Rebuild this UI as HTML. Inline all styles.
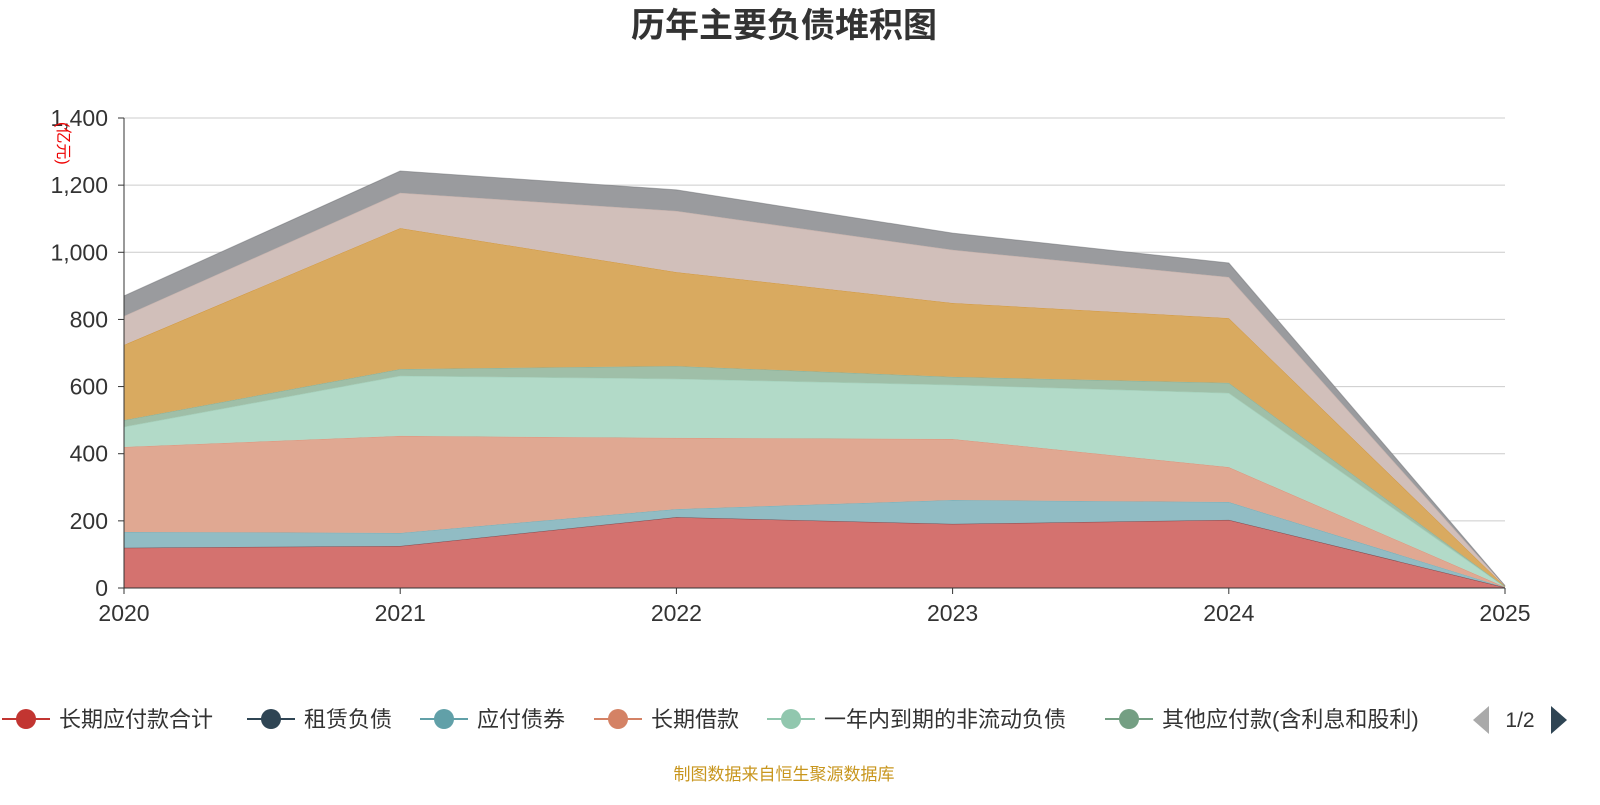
<!DOCTYPE html>
<html><head><meta charset="utf-8"><style>
body{margin:0;background:#fff;font-family:"Liberation Sans","Noto Sans CJK SC",sans-serif;}
</style></head><body>
<svg id="c" width="1600" height="800" xmlns="http://www.w3.org/2000/svg">
<text x="784" y="37" text-anchor="middle" font-size="34" font-weight="bold" fill="#333" font-family="Liberation Sans,Noto Sans CJK SC,sans-serif">历年主要负债堆积图</text>
<g id="grid"></g><g id="areas"></g><g id="axes"></g><g id="legend"></g>
<text x="784" y="780" text-anchor="middle" font-size="17" fill="#c8961e" font-family="Liberation Sans,Noto Sans CJK SC,sans-serif">制图数据来自恒生聚源数据库</text>
</svg>
<script>
const years=['2020','2021','2022','2023','2024','2025'];
const yTicks=[0,200,400,600,800,1000,1200,1400];
const yTickLabels=['0','200','400','600','800','1,000','1,200','1,400'];
const seriesNames=['长期应付款合计','租赁负债','应付债券','长期借款','一年内到期的非流动负债','其他应付款(含利息和股利)','短期借款','应付账款','其他'];
const sLongPay=[120,125,211,191,203,2];
const sLease=[0,0,0,0,0,0];
const sBond=[47,39,24,71,53,0];
const sLoan=[253,289,212,182,104,1];
const sCurrent=[60,179,176,161,221,1];
const sOther=[20,20,38,24,30,0];
const sShort=[224,420,280,220,193,1];
const sPayable=[86,105,182,158,122,1];
const sRest=[60,65,63,50,42,1];
const series=[sLongPay,sLease,sBond,sLoan,sCurrent,sOther,sShort,sPayable,sRest];
const fills=['#d4726f','#56626f','#91bcc4','#e0a892','#b2dac8','#9fbfa8','#d9aa60','#d1bfba','#9a9b9e'];
const lines=['#c23531','#2f4554','#61a0a8','#d48265','#91c7ae','#749f83','#ca8622','#bda29a','#6e7074'];
const NS='http://www.w3.org/2000/svg';
const x0=124,x1=1505,yb=588,yt=118,ymax=1400;
const X=i=>x0+i*(x1-x0)/(years.length-1);
const Y=v=>yb-v/ymax*(yb-yt);
function mk(t,a,p){const e=document.createElementNS(NS,t);for(const k in a)e.setAttribute(k,a[k]);p.appendChild(e);return e;}
const grid=document.getElementById('grid'),axes=document.getElementById('axes'),areas=document.getElementById('areas'),leg=document.getElementById('legend');
yTicks.forEach((t,i)=>{
 if(t>0){const l=mk('line',{x1:x0,x2:x1,y1:Y(t),y2:Y(t),stroke:'#ccc','stroke-width':1},grid);
 }
 const tx=mk('text',{x:108,y:Y(t)+8,'text-anchor':'end','font-size':23,fill:'#333'},axes);tx.textContent=yTickLabels[i];
 
 mk('line',{x1:118,x2:124,y1:Y(t),y2:Y(t),stroke:'#333'},axes);
});
years.forEach((y,i)=>{
 const tx=mk('text',{x:X(i),y:621,'text-anchor':'middle','font-size':23,fill:'#333'},axes);tx.textContent=y;
 
 mk('line',{x1:X(i),x2:X(i),y1:588,y2:594,stroke:'#333'},axes);
});
mk('line',{x1:x0,x2:x0,y1:yt,y2:yb,stroke:'#333'},axes);
mk('line',{x1:x0,x2:x1,y1:yb,y2:yb,stroke:'#333'},axes);
const unit=mk('text',{x:0,y:0,'font-size':16,fill:'#e00',transform:'translate(58,122) rotate(90)'},axes);unit.textContent='(亿元)';

let cum=years.map(()=>0);
series.forEach((s,k)=>{
 const lo=cum.slice();cum=cum.map((c,i)=>c+s[i]);
 let d='M'+years.map((_,i)=>X(i)+','+Y(cum[i])).join('L');
 d+='L'+years.map((_,i)=>X(years.length-1-i)+','+Y(lo[years.length-1-i])).join('L')+'Z';
 const p=mk('path',{d:d,fill:fills[k],stroke:'none'},areas);
 
 const ln=mk('polyline',{points:years.map((_,i)=>X(i)+','+Y(cum[i])).join(' '),fill:'none',stroke:lines[k],'stroke-width':1,opacity:0.5},areas);
 
});
const lx=[0,245,418,592,765,1103];
for(let k=0;k<6;k++){
 const g=mk('g',{},leg);
 const x=lx[k];
 mk('line',{x1:x+2,x2:x+50,y1:719,y2:719,stroke:lines[k],'stroke-width':2},g);
 mk('circle',{cx:x+26,cy:719,r:10,fill:lines[k]},g);
 const t=mk('text',{x:x+59,y:727,'font-size':22,fill:'#333'},g);t.textContent=seriesNames[k];
}
const pl=mk('polygon',{points:'1489,706 1489,734 1473,720',fill:'#aaa'},leg);
const pt=mk('text',{x:1520,y:727,'font-size':21,fill:'#333','text-anchor':'middle'},leg);pt.textContent='1/2';
const pn=mk('polygon',{points:'1551,706 1551,734 1567,720',fill:'#2f4554'},leg);
</script>
</body></html>
